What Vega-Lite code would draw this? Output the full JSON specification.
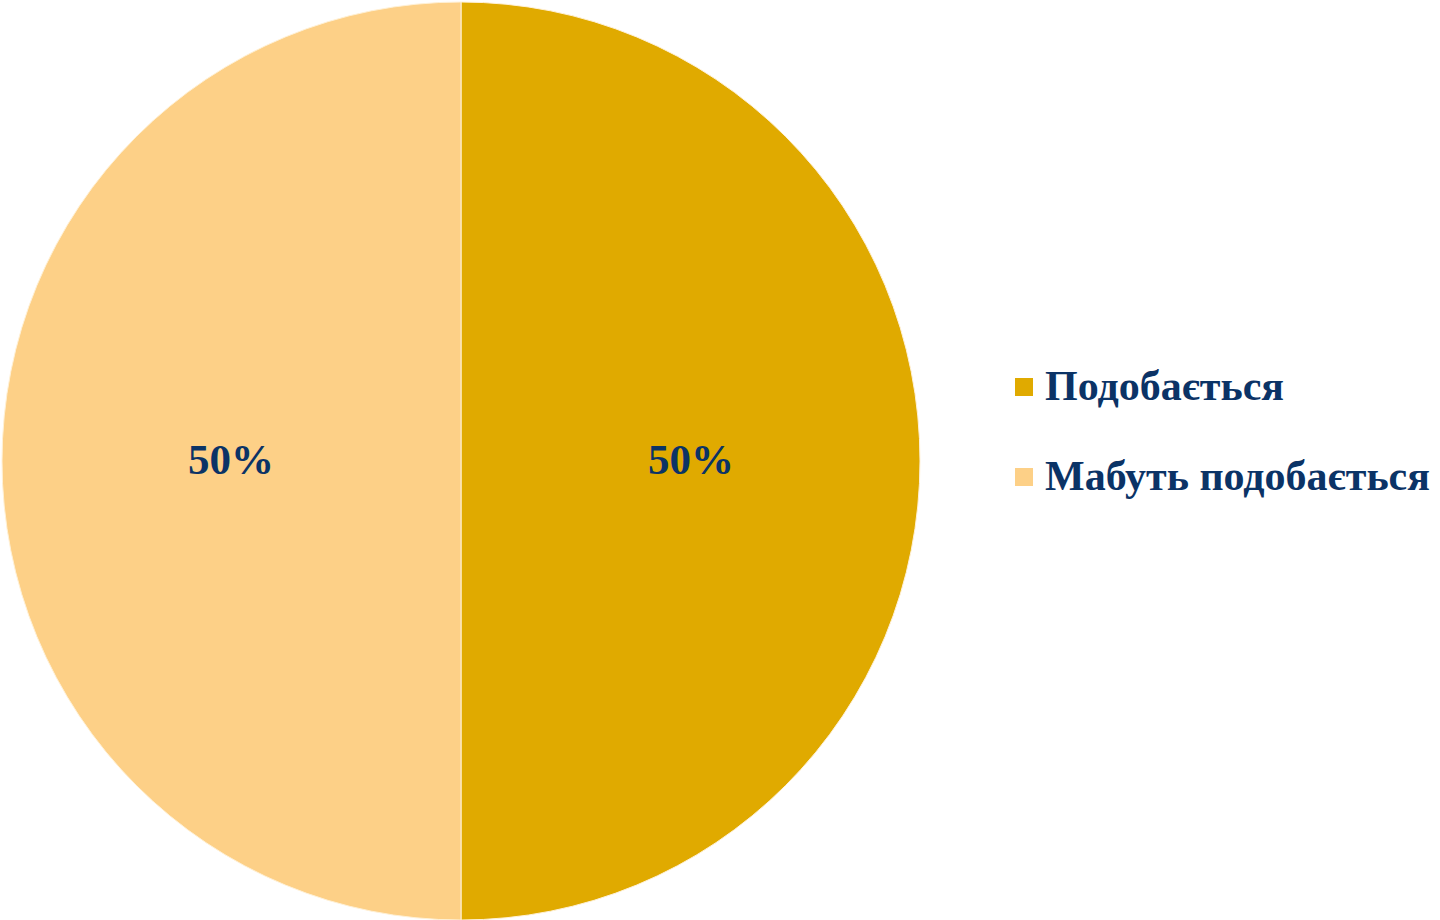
{
  "$schema": "https://vega.github.io/schema/vega-lite/v6.json",
  "width": 920,
  "height": 920,
  "padding": 0,
  "background": "white",
  "data": {
    "values": [
      {"category": "Подобається", "value": 50, "label": "50%", "order": 1},
      {"category": "Мабуть подобається", "value": 50, "label": "50%", "order": 2}
    ]
  },
  "encoding": {
    "theta": {"field": "value", "type": "quantitative", "stack": true},
    "order": {"field": "order", "type": "quantitative"},
    "color": {
      "field": "category",
      "type": "nominal",
      "sort": ["Подобається", "Мабуть подобається"],
      "scale": {"domain": ["Подобається", "Мабуть подобається"], "range": ["#E0AA00", "#FDD087"]},
      "legend": {
        "title": null,
        "orient": "none",
        "legendX": 1002,
        "legendY": 365,
        "padding": 0,
        "symbolType": "square",
        "symbolSize": 324,
        "symbolStrokeWidth": 0,
        "labelFont": "Liberation Serif",
        "labelFontWeight": "bold",
        "labelFontSize": 42,
        "labelColor": "#0B3366",
        "labelOffset": 0,
        "labelLimit": 600,
        "rowPadding": 48
      }
    }
  },
  "layer": [
    {
      "mark": {"type": "arc", "outerRadius": 459, "stroke": "#FFF1D6", "strokeWidth": 1}
    },
    {
      "mark": {
        "type": "text",
        "radius": 230,
        "font": "Liberation Serif",
        "fontWeight": "bold",
        "fontSize": 43,
        "color": "#0B3366",
        "baseline": "middle",
        "align": "center"
      },
      "encoding": {
        "text": {"field": "label", "type": "nominal"},
        "color": {"value": "#0B3366"}
      }
    }
  ],
  "config": {"view": {"stroke": null}}
}
